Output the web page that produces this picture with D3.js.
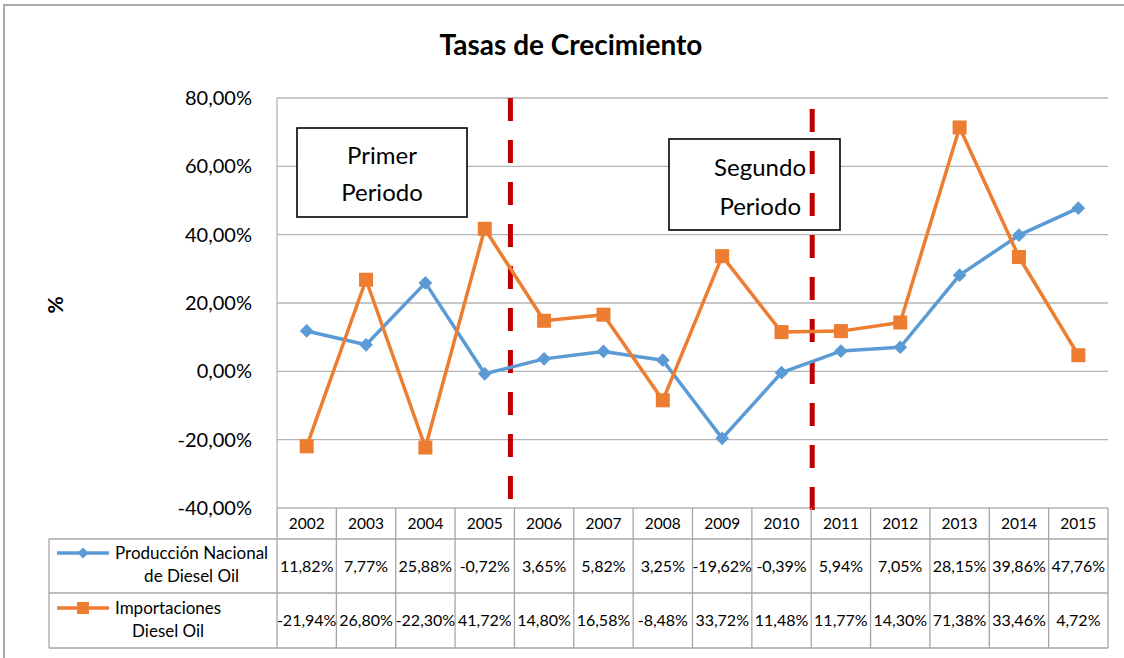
<!DOCTYPE html>
<html><head><meta charset="utf-8">
<script src="https://cdn.jsdelivr.net/npm/d3@7"></script>
<style>body{margin:0;background:#fff}svg{display:block}text{font-family:Lato,"Open Sans",sans-serif;fill:#000}</style>
</head><body><svg id="c" width="1124" height="658"></svg>
<script>
const years = ["2002","2003","2004","2005","2006","2007","2008","2009","2010","2011","2012","2013","2014","2015"];
const produccion = [11.82,7.77,25.88,-0.72,3.65,5.82,3.25,-19.62,-0.39,5.94,7.05,28.15,39.86,47.76];
const importaciones = [-21.94,26.80,-22.30,41.72,14.80,16.58,-8.48,33.72,11.48,11.77,14.30,71.38,33.46,4.72];
const yTicks = [-40,-20,0,20,40,60,80];
const seriesNames = [["Producción Nacional","de Diesel Oil"],["Importaciones","Diesel Oil"]];
const title = "Tasas de Crecimiento";
const yLabel = "%";
const periodLabels = [["Primer","Periodo"],["Segundo","Periodo"]];

const loc = d3.formatLocale({decimal:",",thousands:".",grouping:[3],currency:["","€"],minus:"-"});
const f2 = loc.format(".2f");
const pct = v => f2(v) + "%";

const svg = d3.select("#c");
const L=277, R=1108, T=98, B=508;
const x = d3.scaleBand().domain(years).range([L,R]).padding(0);
const y = d3.scaleLinear().domain([-40,80]).range([B,T]);
const gridC="#b4b4b4", tabC="#a6a6a6";

// outer border
svg.append("rect").attr("x",4).attr("y",5).attr("width",1140).attr("height",680)
  .attr("fill","none").attr("stroke","#a9a9a9").attr("stroke-width",2);

// title
svg.append("text").attr("x",571).attr("y",55).attr("text-anchor","middle")
  .style("font-size","28px").style("font-weight","bold").text(title);

// gridlines
svg.append("g").selectAll("line").data(yTicks).join("line")
  .attr("x1",L).attr("x2",R).attr("y1",d=>y(d)).attr("y2",d=>y(d))
  .attr("stroke",gridC).attr("stroke-width",1.3);
svg.append("line").attr("x1",L).attr("x2",L).attr("y1",T).attr("y2",B).attr("stroke",gridC).attr("stroke-width",1.3);

// y tick labels
svg.append("g").selectAll("text").data(yTicks).join("text")
  .attr("x",252).attr("y",d=>y(d)+7).attr("text-anchor","end")
  .style("font-size","20px").text(d=>f2(d)+"%");

// y label
svg.append("text").attr("transform","translate(63,305) rotate(-90)").attr("text-anchor","middle")
  .style("font-size","21px").style("font-weight","bold").text(yLabel);

// period boxes
const boxes = [{x:297,y:128,w:170,h:89},{x:669,y:139,w:171,h:91}];
boxes.forEach(b=>{
  svg.append("rect").attr("x",b.x).attr("y",b.y).attr("width",b.w).attr("height",b.h)
    .attr("fill","#fff").attr("stroke","#000").attr("stroke-width",1.6);
});
svg.append("text").attr("x",382).attr("y",164).attr("text-anchor","middle").style("font-size","24px").text(periodLabels[0][0]);
svg.append("text").attr("x",382).attr("y",201).attr("text-anchor","middle").style("font-size","24px").text(periodLabels[0][1]);
svg.append("text").attr("x",806).attr("y",176).attr("text-anchor","end").style("font-size","24px").text(periodLabels[1][0]);
svg.append("text").attr("x",801).attr("y",215).attr("text-anchor","end").style("font-size","24px").text(periodLabels[1][1]);

// dashed dividers
const divs = [{x:x("2006")-4,y1:T,y2:502},{x:x("2011")+1,y1:109,y2:512}];
divs.forEach(d=>{
  svg.append("line").attr("x1",d.x).attr("x2",d.x).attr("y1",d.y1).attr("y2",d.y2)
    .attr("stroke","#C00000").attr("stroke-width",5).attr("stroke-dasharray","23 19");
});

const cx = d => x(d)+x.bandwidth()/2;
const blue="#5B9BD5", orange="#ED7D31";
const line = d3.line().x((d,i)=>cx(years[i])).y(d=>y(d));

svg.append("path").datum(produccion).attr("d",line).attr("fill","none").attr("stroke",blue).attr("stroke-width",3.5).attr("stroke-linejoin","round");
svg.append("path").datum(importaciones).attr("d",line).attr("fill","none").attr("stroke",orange).attr("stroke-width",3.5).attr("stroke-linejoin","round");

const diamond = d3.symbol().type(d3.symbolDiamond2).size(120);
svg.append("g").selectAll("path").data(produccion).join("path")
  .attr("d",diamond).attr("transform",(d,i)=>`translate(${cx(years[i])},${y(d)})`)
  .attr("fill",blue);
svg.append("g").selectAll("rect").data(importaciones).join("rect")
  .attr("x",(d,i)=>cx(years[i])-7).attr("y",d=>y(d)-7).attr("width",14).attr("height",14)
  .attr("fill",orange);

// table
const r0=B, r1=539, r2=593, r3=648, LL=49;
const tg = svg.append("g");
[r1,r2,r3].forEach(r=>tg.append("line").attr("x1",LL).attr("x2",R).attr("y1",r).attr("y2",r).attr("stroke",tabC).attr("stroke-width",1.3));
years.forEach(yr=>{
  tg.append("line").attr("x1",x(yr)+x.bandwidth()).attr("x2",x(yr)+x.bandwidth()).attr("y1",r0).attr("y2",r3).attr("stroke",tabC).attr("stroke-width",1.3);
});
tg.append("line").attr("x1",L).attr("x2",L).attr("y1",r0).attr("y2",r3).attr("stroke",tabC).attr("stroke-width",1.3);
tg.append("line").attr("x1",LL).attr("x2",LL).attr("y1",r1).attr("y2",r3).attr("stroke",tabC).attr("stroke-width",1.3);

tg.selectAll("text.yr").data(years).join("text").attr("class","yr")
  .attr("x",d=>cx(d)).attr("y",529).attr("text-anchor","middle").style("font-size","15.5px").text(d=>d);
tg.selectAll("text.v1").data(produccion).join("text").attr("class","v1")
  .attr("x",(d,i)=>cx(years[i])).attr("y",572).attr("text-anchor","middle").style("font-size","16px").text(d=>pct(d));
tg.selectAll("text.v2").data(importaciones).join("text").attr("class","v2")
  .attr("x",(d,i)=>cx(years[i])).attr("y",626).attr("text-anchor","middle").style("font-size","16px").text(d=>pct(d));

// legend keys
const keyY=[553,608];
[[blue,"d"],[orange,"s"]].forEach(([c,t],i)=>{
  tg.append("line").attr("x1",57).attr("x2",109).attr("y1",keyY[i]).attr("y2",keyY[i]).attr("stroke",c).attr("stroke-width",3.5);
  if(t==="d") tg.append("path").attr("d",d3.symbol().type(d3.symbolDiamond2).size(80)()).attr("transform",`translate(83,${keyY[i]})`).attr("fill",c);
  else tg.append("rect").attr("x",77).attr("y",keyY[i]-6).attr("width",12).attr("height",12).attr("fill",c);
  const names = seriesNames[i];
  const t1 = tg.append("text").attr("y",keyY[i]+6).style("font-size","17px").text(names[0]);
  const t2 = tg.append("text").attr("y",keyY[i]+29).style("font-size","17px").text(names[1]);
  const w = Math.max(t1.node().getComputedTextLength(), t2.node().getComputedTextLength());
  const mid = 115 + w/2;
  t1.attr("x",mid).attr("text-anchor","middle");
  t2.attr("x",mid).attr("text-anchor","middle");
});
</script></body></html>
